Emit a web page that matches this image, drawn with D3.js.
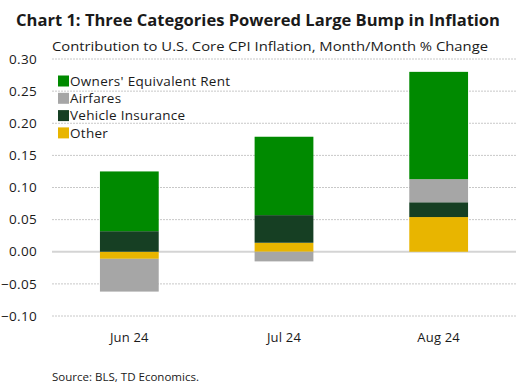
<!DOCTYPE html>
<html>
<head>
<meta charset="utf-8">
<script src="https://cdn.jsdelivr.net/npm/d3@7"></script>
<style>
  body { margin: 0; background: #fff; }
  text { font-family: "Open Sans", sans-serif; fill: #1a1a1a; }
</style>
</head>
<body>
<svg id="chart" width="516" height="385"></svg>
<script>
// Data
const months = ["Jun 24", "Jul 24", "Aug 24"];
const seriesKeys = ["Other", "Vehicle Insurance", "Airfares", "Owners' Equivalent Rent"];
const other = [-0.011, 0.014, 0.054];
const vehicleInsurance = [0.032, 0.043, 0.023];
const airfares = [-0.051, -0.015, 0.036];
const oer = [0.093, 0.122, 0.167];
const yTicks = [-0.10, -0.05, 0.00, 0.05, 0.10, 0.15, 0.20, 0.25, 0.30];
const legendOrder = ["Owners' Equivalent Rent", "Airfares", "Vehicle Insurance", "Other"];

const colors = {
    "Owners' Equivalent Rent": "#008a00",
    "Airfares": "#a6a6a6",
    "Vehicle Insurance": "#163f23",
    "Other": "#e8b500"
};

const rows = months.map((m, i) => ({
    month: m,
    "Other": other[i],
    "Vehicle Insurance": vehicleInsurance[i],
    "Airfares": airfares[i],
    "Owners' Equivalent Rent": oer[i]
}));

const svg = d3.select("#chart");
const margin = { left: 52, right: 0, top: 59, bottom: 69 };
const width = 516, height = 385;

const x = d3.scaleBand()
    .domain(months)
    .range([margin.left, width - margin.right])
    .paddingInner(0.62)
    .paddingOuter(0.31);

const y = d3.scaleLinear()
    .domain([-0.10, 0.30])
    .range([316, 59]);

// Title and subtitle
svg.append("text")
    .attr("x", 16).attr("y", 26)
    .style("font-size", "16.5px").style("font-weight", "bold")
    .attr("textLength", 484).attr("lengthAdjust", "spacingAndGlyphs")
    .text("Chart 1: Three Categories Powered Large Bump in Inflation");

svg.append("text")
    .attr("x", 52).attr("y", 51)
    .style("font-size", "13.5px")
    .attr("textLength", 436).attr("lengthAdjust", "spacingAndGlyphs")
    .text("Contribution to U.S. Core CPI Inflation, Month/Month % Change");

// Gridlines
svg.append("g")
    .selectAll("line")
    .data(yTicks.filter(d => d !== 0))
    .enter()
    .append("line")
    .attr("x1", margin.left).attr("x2", width)
    .attr("y1", d => y(d)).attr("y2", d => y(d))
    .attr("stroke", "#c8c8c8")
    .attr("stroke-width", 1)
    .attr("stroke-dasharray", "2,1");

// Y labels
svg.append("g")
    .selectAll("text")
    .data(yTicks)
    .enter()
    .append("text")
    .attr("x", 37)
    .attr("y", d => y(d))
    .attr("dy", "0.35em")
    .attr("text-anchor", "end")
    .style("font-size", "13.5px")
    .style("letter-spacing", "0.3px")
    .text(d => d3.format(".2f")(d));

// Zero line
svg.append("line")
    .attr("x1", margin.left).attr("x2", width)
    .attr("y1", y(0)).attr("y2", y(0))
    .attr("stroke", "#d4d4d4")
    .attr("stroke-width", 2);

// Stacked bars
const stack = d3.stack().keys(seriesKeys).offset(d3.stackOffsetDiverging);
const layers = stack(rows);

svg.append("g")
    .selectAll("g")
    .data(layers)
    .enter()
    .append("g")
    .attr("fill", d => colors[d.key])
    .selectAll("rect")
    .data(d => d)
    .enter()
    .append("rect")
    .attr("x", d => x(d.data.month))
    .attr("width", x.bandwidth())
    .attr("y", d => y(Math.max(d[0], d[1])))
    .attr("height", d => Math.abs(y(d[0]) - y(d[1])));

// X labels
svg.append("g")
    .selectAll("text")
    .data(months)
    .enter()
    .append("text")
    .attr("x", d => x(d) + x.bandwidth() / 2)
    .attr("y", 342)
    .attr("text-anchor", "middle")
    .style("font-size", "13px")
    .style("letter-spacing", "0.2px")
    .text(d => d);

// Legend
const legend = svg.append("g")
    .selectAll("g")
    .data(legendOrder)
    .enter()
    .append("g")
    .attr("transform", (d, i) => `translate(58, ${81 + i * 17.3})`);

legend.append("rect")
    .attr("x", 0).attr("y", -5.5)
    .attr("width", 11).attr("height", 11)
    .attr("fill", d => colors[d]);

legend.append("text")
    .attr("x", 12).attr("dy", "0.35em")
    .style("font-size", "13.5px")
    .style("letter-spacing", "0.3px")
    .text(d => d);

// Source
svg.append("text")
    .attr("x", 52).attr("y", 381)
    .style("font-size", "10.5px")
    .attr("textLength", 147).attr("lengthAdjust", "spacingAndGlyphs")
    .text("Source: BLS, TD Economics.");
</script>
</body>
</html>
